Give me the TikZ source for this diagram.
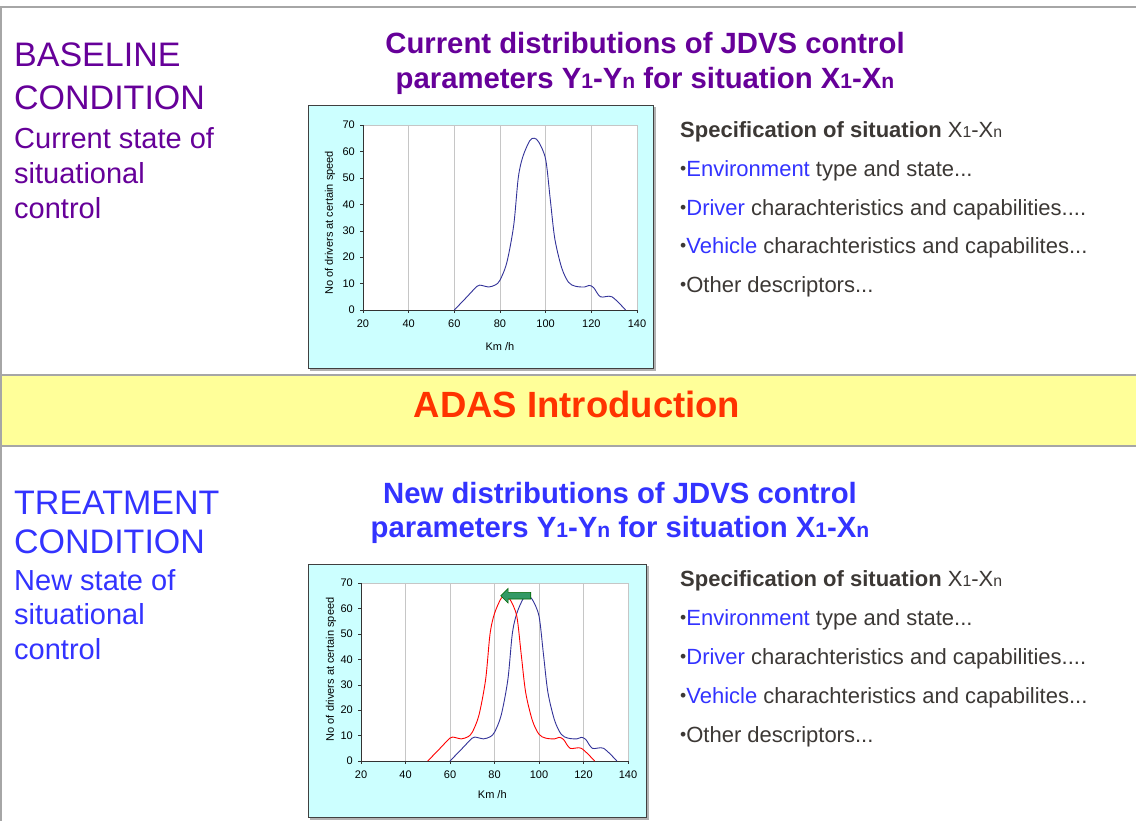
\documentclass[tikz,border=0pt]{standalone}
\usepackage{fontspec}
\setmainfont{Liberation Sans}
\usetikzlibrary{
  shapes.arrows,
}

\definecolor{basepurple}{HTML}{660099}
\definecolor{treatblue}{HTML}{3333FF}
\definecolor{textgray}{HTML}{3C3835}
\definecolor{bandyellow}{HTML}{FFFF99}
\definecolor{adasred}{HTML}{FF3300}
\definecolor{boxcyan}{HTML}{CCFFFF}
\definecolor{curveblue}{HTML}{333399}
\definecolor{curvered}{HTML}{FF0000}
\definecolor{shiftgreen}{HTML}{339966}

\newcommand{\px}[1]{\fontsize{#1}{#1}\selectfont}
\newcommand{\lo}[1]{\scalebox{0.72}{#1}}
\newcommand{\bul}{\raisebox{0.08em}{\scalebox{0.8}{•}}}

\tikzset{
  frame/.style={draw=gray!70, line width=1.2pt},
  heading/.style={anchor=base west, inner sep=0pt, font=\px{34}},
  subline/.style={anchor=base west, inner sep=0pt, font=\px{29}},
  title/.style={anchor=base, inner sep=0pt, font=\px{29.3}\bfseries},
  spec/.style={anchor=base west, inner sep=0pt, font=\px{22}, text=textgray},
  chartbox/.style={fill=boxcyan, draw=black!75, line width=1pt},
  grid line/.style={draw=gray!45, line width=0.8pt},
  tick label/.style={font=\px{11}, inner sep=1pt, text=black},
  curve/.style={line width=0.9pt, smooth, tension=0.5},
}

% axes, grid and tick labels of one speed chart (scope units: km/h, drivers)
\newcommand{\chartaxes}[1]{
  \fill[white] (20,0) rectangle (140,70);
  \foreach \s in {40,60,...,120}
    \draw[grid line] (\s,0) -- (\s,70);
  \draw[grid line] (20,70) -- (140,70) -- (140,0);
  \draw[black!80, line width=0.8pt] (20,70) -- (20,0) -- (140,0);
  \foreach \s in {20,40,...,140} {
    \draw[black!80] (\s,0) -- ++(0,-3pt);
    \node[tick label, anchor=north] (#1x\s) at ([yshift=-9pt]\s,0) {\s};
  }
  \foreach \c in {0,10,...,70} {
    \draw[black!80] (20,\c) -- ++(-3pt,0);
    \node[tick label, anchor=east] (#1y\c) at ([xshift=-7pt]20,\c) {\c};
  }
}

\begin{document}
\begin{tikzpicture}[x=1pt, y=-1pt]
\useasboundingbox (0,0) rectangle (1136,820);
\fill[white] (0,0) rectangle (1136,820);

% frame and band
\draw[frame] (0,7) -- (1140,7);
\draw[frame] (1,7) -- (1,825);
\filldraw[frame, fill=bandyellow] (1,375) rectangle (1140,446);
\node[font=\px{36.5}\bfseries, text=adasred] (adas) at (577,404) {ADAS Introduction};

% baseline condition
\node[heading, text=basepurple] (basehead) at (14,66) {BASELINE};
\node[heading, text=basepurple] (basecond) at (14,109) {CONDITION};
\node[subline, text=basepurple] (basesub1) at (14,148) {Current state of};
\node[subline, text=basepurple] (basesub2) at (14,183) {situational};
\node[subline, text=basepurple] (basesub3) at (14,218) {control};
\node[title, text=basepurple] (basetitle1) at (645,53) {Current distributions of JDVS control};
\node[title, text=basepurple] (basetitle2) at (645,88)
  {parameters Y\lo{1}-Y\lo{n} for situation X\lo{1}-X\lo{n}};

\node[spec] (basespec) at (680,137) {\textbf{Specification of situation }X\lo{1}-X\lo{n}};
\node[spec] (baseenv) at (680,176) {\bul\textcolor{treatblue}{Environment} type and state...};
\node[spec] (basedrv) at (680,215) {\bul\textcolor{treatblue}{Driver} charachteristics and capabilities....};
\node[spec] (baseveh) at (680,253) {\bul\textcolor{treatblue}{Vehicle} charachteristics and capabilites...};
\node[spec] (baseoth) at (680,292) {\bul Other descriptors...};

\fill[gray!60] (310,107) rectangle (656,371);
\draw[chartbox] (308,105) rectangle (653,368);
\begin{scope}[shift={(317.33,310)}, x=2.2833pt, y=2.643pt]
  \chartaxes{base}
  \draw[curve, curveblue] plot coordinates {(60,0) (65,4.5) (70,9) (72,9.3) (75,8.7) (78,9.5)
    (80,11.3) (83,18) (86,32) (88,50) (90,58) (93,64) (95,65) (97,63.5) (100,57) (102,42)
    (104,27) (107,16) (110,10.5) (113,9) (117,8.7) (119,9.3) (121,8.5) (124,5) (129,5) (135,0)};
  \node[tick label] (basekmh) at ([yshift=-37pt]80,0) {Km /h};
  \node[tick label, rotate=90] (baseylab) at ([xshift=-33pt]20,33) {No of drivers at certain speed};
\end{scope}

% treatment condition
\node[heading, text=treatblue] (treathead) at (14,514) {TREATMENT};
\node[heading, text=treatblue] (treatcond) at (14,553) {CONDITION};
\node[subline, text=treatblue] (treatsub1) at (14,590) {New state of};
\node[subline, text=treatblue] (treatsub2) at (14,624) {situational};
\node[subline, text=treatblue] (treatsub3) at (14,659) {control};
\node[title, text=treatblue] (treattitle1) at (620,503) {New distributions of JDVS control};
\node[title, text=treatblue] (treattitle2) at (620,537)
  {parameters Y\lo{1}-Y\lo{n} for situation X\lo{1}-X\lo{n}};

\node[spec] (treatspec) at (680,586) {\textbf{Specification of situation }X\lo{1}-X\lo{n}};
\node[spec] (treatenv) at (680,625) {\bul\textcolor{treatblue}{Environment} type and state...};
\node[spec] (treatdrv) at (680,664) {\bul\textcolor{treatblue}{Driver} charachteristics and capabilities....};
\node[spec] (treatveh) at (680,703) {\bul\textcolor{treatblue}{Vehicle} charachteristics and capabilites...};
\node[spec] (treatoth) at (680,742) {\bul Other descriptors...};

\fill[gray!60] (310,566) rectangle (649,820);
\draw[chartbox] (308,564) rectangle (646,817);
\begin{scope}[shift={(316.5,761)}, x=2.225pt, y=2.543pt]
  \chartaxes{treat}
  \draw[curve, curveblue] plot coordinates {(60,0) (65,4.5) (70,9) (72,9.3) (75,8.7) (78,9.5)
    (80,11.3) (83,18) (86,32) (88,50) (90,58) (93,64) (95,65) (97,63.5) (100,57) (102,42)
    (104,27) (107,16) (110,10.5) (113,9) (117,8.7) (119,9.3) (121,8.5) (124,5) (129,5) (135,0)};
  \draw[curve, curvered] plot coordinates {(50,0) (55,4.5) (60,9) (62,9.3) (65,8.7) (68,9.5)
    (70,11.3) (73,18) (76,32) (78,50) (80,58) (83,64) (85,65) (87,63.5) (90,57) (92,42)
    (94,27) (97,16) (100,10.5) (103,9) (107,8.7) (109,9.3) (111,8.5) (114,5) (119,5) (125,0)};
  \node[single arrow, shape border rotate=180, fill=shiftgreen, draw=black!60!green,
    line width=0.6pt, inner sep=3pt, single arrow head extend=4pt,
    minimum height=30pt] (shift) at (90.3,65) {};
  \node[tick label] (treatkmh) at ([yshift=-34pt]79,0) {Km /h};
  \node[tick label, rotate=90] (treatylab) at ([xshift=-30pt]20,36) {No of drivers at certain speed};
\end{scope}
\end{tikzpicture}
\end{document}
